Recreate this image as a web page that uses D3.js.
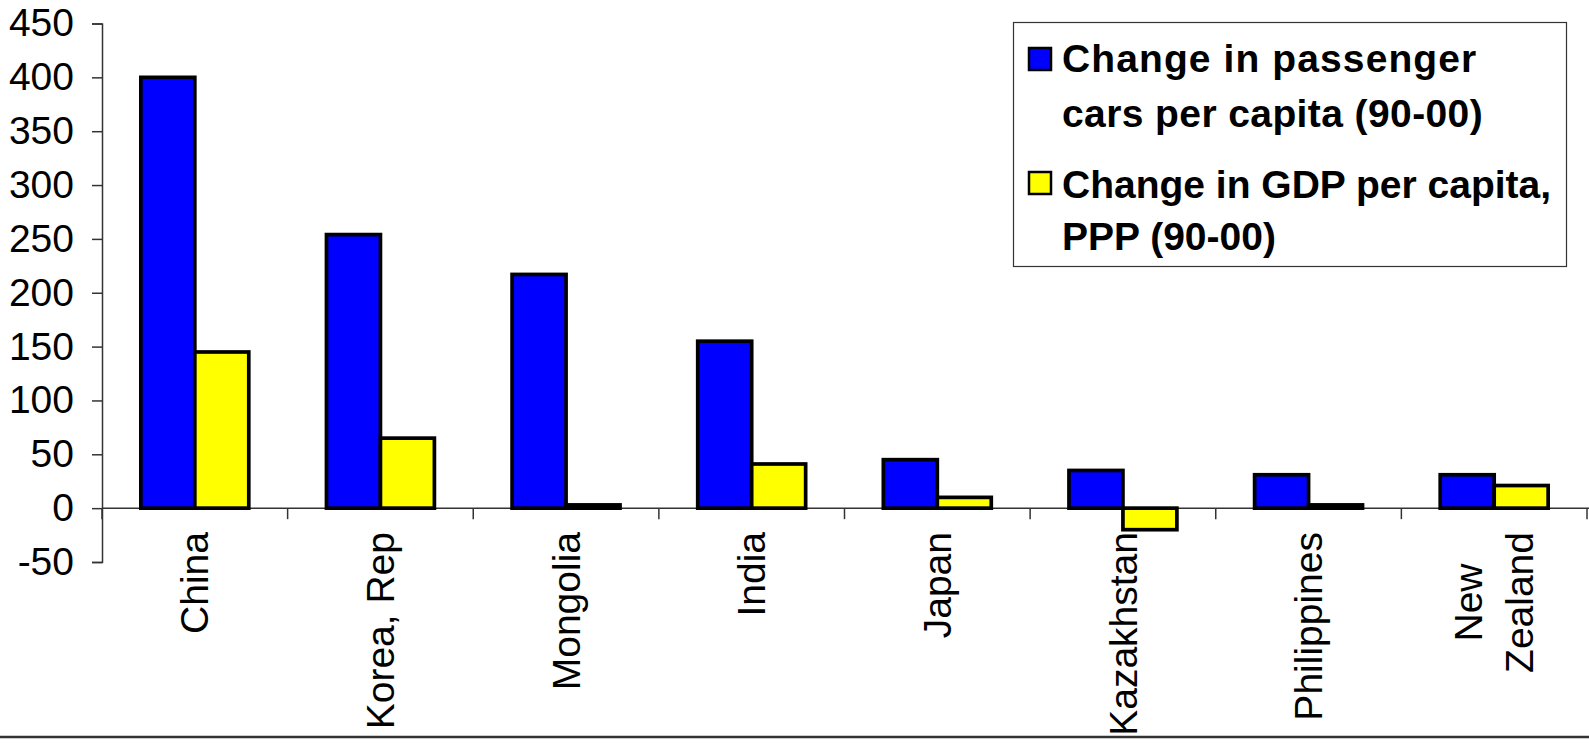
<!DOCTYPE html>
<html>
<head>
<meta charset="utf-8">
<script src="https://cdn.jsdelivr.net/npm/d3@7"></script>
<style>
  html, body { margin: 0; padding: 0; background: #fff; }
  svg { display: block; }
  text { font-family: "Liberation Sans", Arial, Helvetica, sans-serif; }
</style>
</head>
<body>
<svg id="chart" width="1589" height="747"></svg>
<script>
// ---- data ----
const categories = ["China", "Korea, Rep", "Mongolia", "India", "Japan", "Kazakhstan", "Philippines", "New\nZealand"];
const carsChange = [400, 254, 217, 155, 45, 35, 31, 31];
const gdpChange  = [145, 65, 3, 41, 10, -20, 3, 21];
const seriesNames = ["Change in passenger\ncars per capita (90-00)", "Change in GDP per capita,\nPPP (90-00)"];
const seriesColors = ["#0000FF", "#FFFF00"];
const yTicks = [-50, 0, 50, 100, 150, 200, 250, 300, 350, 400, 450];

// ---- layout ----
const W = 1589, H = 747;
const svg = d3.select("#chart");
const plotLeft = 102, plotRight = 1587, plotTop = 23.5, plotBottom = 562;

const y = d3.scaleLinear().domain([-50, 450]).range([plotBottom, plotTop]);
const x0 = d3.scaleBand().domain(categories).range([plotLeft, plotRight]).padding(0);
const seriesKeys = ["cars", "gdp"];
const x1 = d3.scaleBand().domain(seriesKeys).range([0, x0.bandwidth()]).paddingInner(0).paddingOuter(0.72);

const rows = categories.map((c, i) => ({ cat: c, cars: carsChange[i], gdp: gdpChange[i] }));

// bottom rule
svg.append("line").attr("x1", 0).attr("x2", W).attr("y1", 737).attr("y2", 737)
  .attr("stroke", "#333").attr("stroke-width", 2.5);

// y axis
const yAxis = d3.axisLeft(y).tickValues(yTicks).tickSize(10).tickPadding(18).tickFormat(d => String(d));
const gy = svg.append("g").attr("transform", `translate(${plotLeft},0)`).call(yAxis);
gy.select(".domain").attr("stroke", "#333").attr("stroke-width", 1.5);
gy.selectAll(".tick line").attr("stroke", "#333").attr("stroke-width", 1.5);
gy.selectAll(".tick text").attr("font-size", 39).attr("fill", "#000")
  .style("font-family", '"Liberation Sans", Arial, sans-serif');

// x axis at zero
const xAxisG = svg.append("g").attr("transform", `translate(0,${y(0)})`);
xAxisG.append("line").attr("x1", plotLeft).attr("x2", W).attr("y1", 0).attr("y2", 0)
  .attr("stroke", "#333").attr("stroke-width", 1.5);
const boundaries = d3.range(categories.length + 1).map(i => plotLeft + i * x0.step());
xAxisG.selectAll("line.xt").data(boundaries).join("line").attr("class", "xt")
  .attr("x1", d => d).attr("x2", d => d).attr("y1", 0).attr("y2", 11)
  .attr("stroke", "#333").attr("stroke-width", 1.5);

// bars
const groups = svg.append("g").selectAll("g").data(rows).join("g")
  .attr("transform", d => `translate(${x0(d.cat)},0)`);
groups.selectAll("rect").data(d => seriesKeys.map((k, j) => ({ key: k, value: d[k], color: seriesColors[j] })))
  .join("rect")
  .attr("x", d => x1(d.key))
  .attr("width", x1.bandwidth())
  .attr("y", d => y(Math.max(0, d.value)))
  .attr("height", d => Math.abs(y(d.value) - y(0)))
  .attr("fill", d => d.color)
  .attr("stroke", "#000").attr("stroke-width", 3.7);

// category labels (rotated)
const labelTop = 532;
const lineGap = 51;
categories.forEach(cat => {
  const lines = cat.split("\n");
  const cx = x0(cat) + x0.bandwidth() / 2;
  const g = svg.append("g").attr("transform", `translate(${cx},${labelTop}) rotate(-90)`);
  const texts = lines.map((ln, i) => {
    const off = (i - (lines.length - 1) / 2) * lineGap;
    return g.append("text").text(ln).attr("font-size", 39).attr("fill", "#000")
      .attr("text-anchor", "middle").attr("y", off + 13.6);
  });
  const maxL = d3.max(texts, t => t.node().getComputedTextLength());
  texts.forEach(t => t.attr("x", -maxL / 2));
});

// legend
const lg = svg.append("g");
lg.append("rect").attr("x", 1013.5).attr("y", 22.5).attr("width", 553).attr("height", 244)
  .attr("fill", "#fff").attr("stroke", "#333").attr("stroke-width", 1.2);
const legendItems = [
  { name: seriesNames[0], color: seriesColors[0], swY: 48, baselines: [71.6, 126.7], ls: [1.1, 0.4] },
  { name: seriesNames[1], color: seriesColors[1], swY: 172, baselines: [197.6, 250.3], ls: [0, 0] }
];
legendItems.forEach(it => {
  lg.append("rect").attr("x", 1029).attr("y", it.swY).attr("width", 22).attr("height", 22)
    .attr("fill", it.color).attr("stroke", "#000").attr("stroke-width", 2.5);
  it.name.split("\n").forEach((ln, i) => {
    lg.append("text").text(ln).attr("x", 1062).attr("y", it.baselines[i])
      .attr("font-size", 39).attr("font-weight", "bold").attr("fill", "#000")
      .style("letter-spacing", it.ls[i] + "px");
  });
});
</script>
</body>
</html>
